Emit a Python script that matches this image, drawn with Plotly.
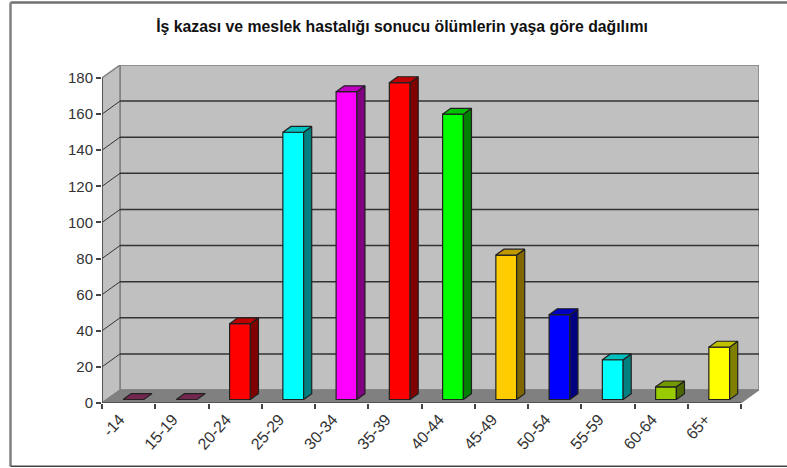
import plotly.graph_objects as go

# Data
categories = ["-14", "15-19", "20-24", "25-29", "30-34", "35-39", "40-44", "45-49", "50-54", "55-59", "60-64", "65+"]
deaths = [0, 0, 42, 148, 170.5, 175.5, 158, 80, 47, 22, 7, 29]
front_colors = ["#993366", "#993366", "#FF0000", "#00FFFF", "#FF00FF", "#FF0000", "#00FF00", "#FFCC00", "#0000FF", "#00FFFF", "#99CC00", "#FFFF00"]
side_colors = ["#4D1A33", "#4D1A33", "#800000", "#008080", "#800080", "#800000", "#008000", "#806600", "#000080", "#008080", "#4D6600", "#808000"]
top_colors = ["#732650", "#732650", "#C00000", "#00C0C0", "#C000C0", "#C00000", "#00C000", "#C09900", "#0000C0", "#00C0C0", "#739900", "#C0C000"]
y_ticks = [0, 20, 40, 60, 80, 100, 120, 140, 160, 180]
title = "İş kazası ve meslek hastalığı sonucu ölümlerin yaşa göre dağılımı"

W, H = 787, 468
PX_L, PX_R, PX_T, PX_B = 102.0, 759.0, 65.0, 402.7
n = len(categories)
depth_x = 18 / ((741.0 - 102.0) / n)   # depth in category units
y_top = 180 + 13 / ((402.7 - 78.0) / 180)
depth_y = y_top - 180                  # depth in value units
x_top = n + depth_x
near, far = 0.27, 0.72                 # bar position across the depth
bar_w = 0.39

ink = "#1f1f1f"
wall = "#C0C0C0"
floor = "#808080"
grid = "#333333"
axis_c = "#444444"


def poly(xs, ys, fill, line_c=None, lw=1):
    pts = list(zip(xs, ys))
    path = "M" + " L".join(f"{x:.4f},{y:.4f}" for x, y in pts) + " Z"
    return dict(type="path", path=path, xref="x", yref="y", fillcolor=fill, layer="below",
                line=dict(color=line_c or fill, width=lw))


def seg(x0, y0, x1, y1, color, width):
    return dict(type="line", xref="x", yref="y", x0=x0, y0=y0, x1=x1, y1=y1, layer="below",
                line=dict(color=color, width=width))


def px_x(px):
    return (px - PX_L) / (PX_R - PX_L)


def px_y(px):
    return (PX_B - px) / (PX_B - PX_T)


shapes = [
    # back wall, side wall, floor
    poly([depth_x, x_top, x_top, depth_x], [depth_y, depth_y, y_top, y_top], wall, "#808080", 1.5),
    poly([0, depth_x, depth_x, 0], [0, depth_y, y_top, 180], wall, "#808080", 1.5),
    poly([0, n, x_top, depth_x], [0, 0, depth_y, depth_y], floor, "#808080", 1),
]
for v in y_ticks[1:-1]:
    shapes.append(seg(depth_x, v + depth_y, x_top, v + depth_y, grid, 1.5))
    shapes.append(seg(0, v, depth_x, v + depth_y, grid, 1))
shapes.append(seg(0, 0, 0, 180, axis_c, 1.5))
shapes.append(seg(0, 0, n, 0, axis_c, 1.5))
# frame of the picture (no right edge)
for x0, y0, x1, y1, c, w in [
    (10.5, 2.5, W, 2.5, "#707070", 2.5),
    (10.5, 2.5, 10.5, 466, "#808080", 2.5),
    (10.5, 466, W, 466, "#444444", 1.5),
]:
    shapes.append(dict(type="line", xref="paper", yref="paper", x0=px_x(x0), y0=px_y(y0), x1=px_x(x1), y1=px_y(y1),
                       line=dict(color=c, width=w), layer="below"))

fig = go.Figure()
d_x = (far - near) * depth_x
d_y = (far - near) * depth_y
base = near * depth_y
edge = dict(color="#202020", width=1.2)
for i, v in enumerate(deaths):
    left = i + 0.5 - bar_w / 2 + near * depth_x
    right = left + bar_w
    # side face
    if v > 0:
        fig.add_trace(go.Scatter(x=[right, right + d_x, right + d_x, right, right],
                                 y=[base, base + d_y, base + d_y + v, base + v, base],
                                 mode="lines", fill="toself", fillcolor=side_colors[i],
                                 line=edge, hoverinfo="skip", showlegend=False))
    # top face
    fig.add_trace(go.Scatter(x=[left, right, right + d_x, left + d_x, left],
                             y=[base + v, base + v, base + d_y + v, base + d_y + v, base + v],
                             mode="lines", fill="toself", fillcolor=top_colors[i],
                             line=edge, hoverinfo="skip", showlegend=False))

# front faces
fig.add_trace(go.Bar(x=[i + 0.5 + near * depth_x for i in range(n)], y=deaths, base=base,
                     width=bar_w, marker=dict(color=front_colors, line=edge), showlegend=False))

fig.update_layout(
    width=W, height=H, autosize=False,
    margin=dict(l=PX_L, r=W - PX_R, t=PX_T, b=H - PX_B, pad=0),
    paper_bgcolor="white", plot_bgcolor="white",
    font=dict(family="Liberation Sans, Arial, sans-serif", color=ink),
    title=dict(text=f"<b>{title}</b>", x=402 / W, xanchor="center", y=1 - 26 / H, yanchor="middle",
               font=dict(size=15.8, color="#111111")),
    shapes=shapes,
    xaxis=dict(range=[0, x_top], tickmode="array", tickvals=[i + 0.5 for i in range(n)], ticktext=categories,
               tickangle=-48, ticks="", showgrid=False, zeroline=False, showline=False,
               ticklabelshift=-9, ticklabelstandoff=3,
               tickfont=dict(size=16, color="#333333"),
               minor=dict(tickmode="array", tickvals=list(range(n + 1)), ticks="outside", ticklen=5,
                          tickwidth=1.5, tickcolor=axis_c, showgrid=False)),
    yaxis=dict(range=[0, y_top], tickmode="array", tickvals=y_ticks, ticks="outside", ticklen=5, tickwidth=1.5,
               tickcolor=axis_c, showgrid=False, zeroline=False, showline=False,
               tickfont=dict(size=15, color="#333333")),
)
fig.write_html("out.html", config=dict(displayModeBar=False),
               post_script="document.body.style.margin='0';document.body.style.overflow='hidden';")
